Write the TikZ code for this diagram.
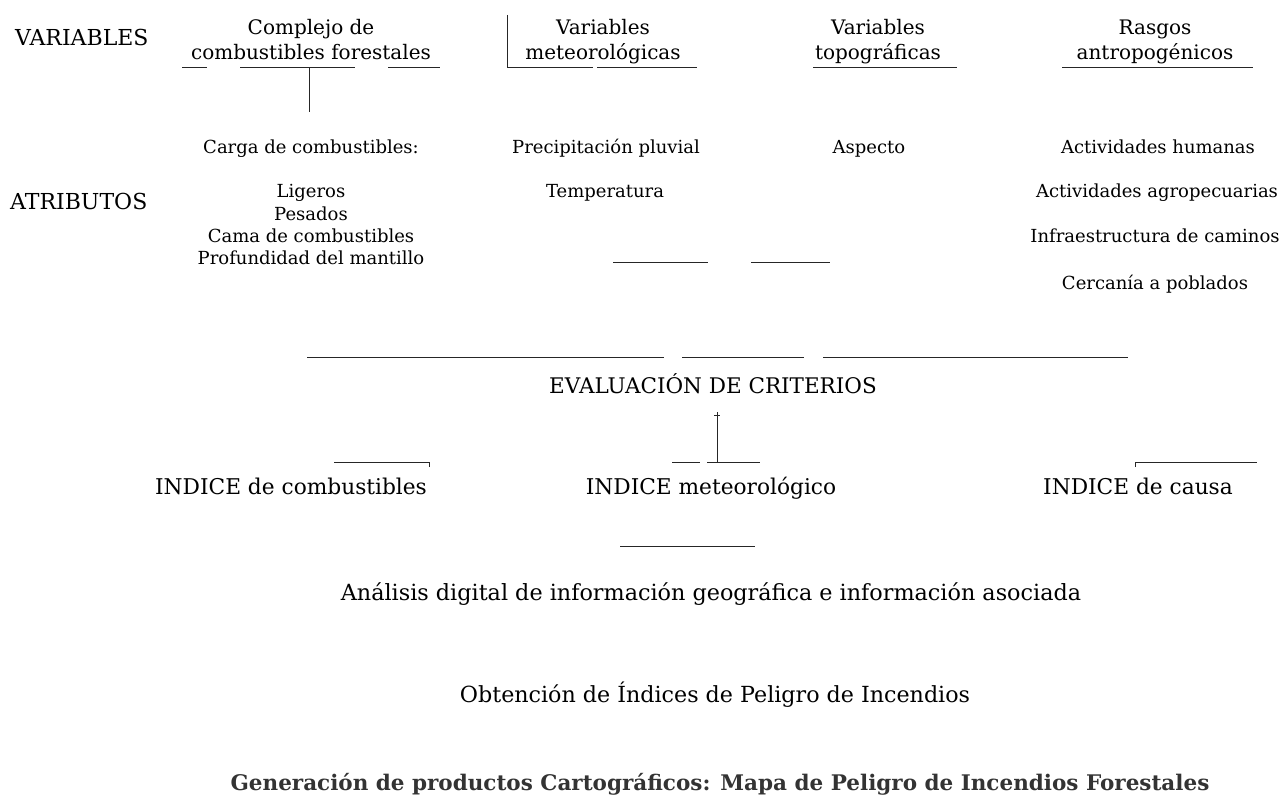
\documentclass[tikz,border=0pt]{standalone}
\usepackage{fontspec}
\setmainfont{DejaVu Serif}
\usepackage{tikz}
\usetikzlibrary{positioning}

\begin{document}
\begin{tikzpicture}[
    x=1pt, y=-1pt,
    % Text styles for the rows of the scheme
    row_label/.style={anchor=base west, inner sep=0pt, font=\fontsize{22}{26}\selectfont},
    var_head/.style={anchor=base, inner sep=0pt, font=\fontsize{20}{25}\selectfont},
    attr_item/.style={anchor=base, inner sep=0pt, font=\fontsize{18}{22}\selectfont},
    index_item/.style={anchor=base, inner sep=0pt, font=\fontsize{21.7}{26}\selectfont},
    process_step/.style={anchor=base, inner sep=0pt, font=\fontsize{22.3}{26}\selectfont},
    % Remains of the scanned frames
    scan_line/.style={black!85, line width=1pt}
]
\useasboundingbox (0,0) rectangle (1287,802);

% --- 1. Row labels ---
\node[row_label] (lbl_var) at (15,46) {VARIABLES};
\node[row_label] (lbl_attr) at (10,210) {ATRIBUTOS};

% --- 2. Variables (headings) ---
\node[var_head] (fuel_a) at (311,35) {Complejo de};
\node[var_head] (fuel_b) at (311,60) {combustibles forestales};
\node[var_head] (meteo_a) at (603,35) {Variables};
\node[var_head] (meteo_b) at (603,60) {meteorológicas};
\node[var_head] (topo_a) at (878,35) {Variables};
\node[var_head] (topo_b) at (878,60) {topográficas};
\node[var_head] (anthro_a) at (1155,35) {Rasgos};
\node[var_head] (anthro_b) at (1155,60) {antropogénicos};

% Underlines (broken in the scan)
\draw[scan_line] (182,68) -- (207,68);
\draw[scan_line] (240,68) -- (355,68);
\draw[scan_line] (388,68) -- (440,68);
\draw[scan_line] (309,68) -- (309,112);
\draw[scan_line] (507,15) -- (507,68) -- (593,68);
\draw[scan_line] (597,68) -- (697,68);
\draw[scan_line] (813,68) -- (957,68);
\draw[scan_line] (1062,68) -- (1253,68);

% --- 3. Attributes ---
\node[attr_item] (fuel_load) at (311,154) {Carga de combustibles:};
\node[attr_item] (fuel_light) at (311,198) {Ligeros};
\node[attr_item] (fuel_heavy) at (311,221) {Pesados};
\node[attr_item] (fuel_bed) at (311,243) {Cama de combustibles};
\node[attr_item] (fuel_litter) at (311,265) {Profundidad del mantillo};

\node[attr_item] (meteo_rain) at (606,154) {Precipitación pluvial};
\node[attr_item] (meteo_temp) at (605,198) {Temperatura};

\node[attr_item] (topo_aspect) at (869,154) {Aspecto};

\node[attr_item] (anthro_human) at (1158,154) {Actividades humanas};
\node[attr_item] (anthro_agro) at (1157,198) {Actividades agropecuarias};
\node[attr_item] (anthro_roads) at (1155,243) {Infraestructura de caminos};
\node[attr_item] (anthro_towns) at (1155,289) {Cercanía a poblados};

\draw[scan_line] (613,263) -- (708,263);
\draw[scan_line] (751,263) -- (830,263);

% --- 4. Evaluation and indices ---
\draw[scan_line] (307,357) -- (664,357);
\draw[scan_line] (682,357) -- (804,357);
\draw[scan_line] (823,357) -- (1128,357);

\node[process_step, font=\fontsize{21.5}{26}\selectfont] (eval) at (713,393) {EVALUACIÓN DE CRITERIOS};

\draw[scan_line] (717,412) -- (717,462);
\draw[scan_line] (714,415) -- (720,415);
\draw[scan_line] (672,462) -- (700,462);
\draw[scan_line] (707,462) -- (760,462);
\draw[scan_line] (334,462) -- (429,462) -- (429,467);
\draw[scan_line] (1135,467) -- (1135,462) -- (1257,462);

\node[index_item] (idx_fuel) at (291,494) {INDICE de combustibles};
\node[index_item] (idx_meteo) at (711,494) {INDICE meteorológico};
\node[index_item] (idx_cause) at (1138,494) {INDICE de causa};

\draw[scan_line] (620,546) -- (755,546);

% --- 5. Processing steps ---
\node[process_step] (gis) at (711,600) {Análisis digital de información geográfica e información asociada};
\node[process_step, font=\fontsize{22.2}{26}\selectfont] (danger) at (715,702) {Obtención de Índices de Peligro de Incendios};
\node[process_step, black!80, font=\bfseries\fontsize{21.5}{26}\selectfont] (map) at (720,790) {Generación de productos Cartográficos: Mapa de Peligro de Incendios Forestales};

\end{tikzpicture}
\end{document}
